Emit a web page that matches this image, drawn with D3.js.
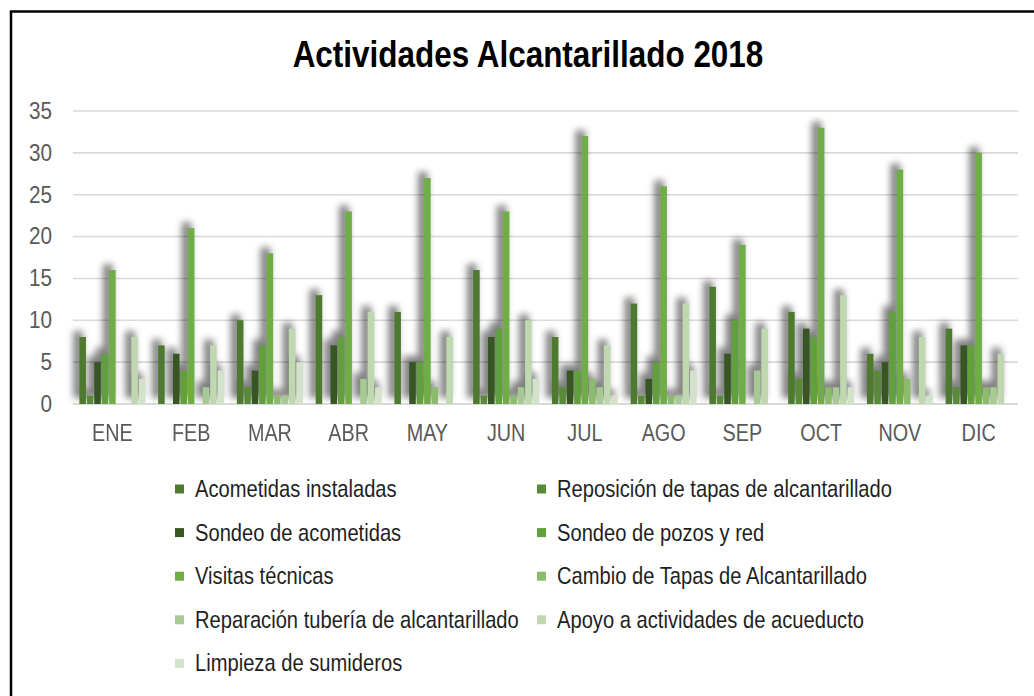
<!DOCTYPE html>
<html>
<head>
<meta charset="utf-8">
<script src="https://cdn.jsdelivr.net/npm/d3@7"></script>
<style>
  body { margin: 0; background: #fff; }
  text { font-family: "Liberation Sans", Arial, sans-serif; }
</style>
</head>
<body>
<script>
// Actividades Alcantarillado 2018 - grouped bars, 9 series per month
var months = ["ENE","FEB","MAR","ABR","MAY","JUN","JUL","AGO","SEP","OCT","NOV","DIC"];

var seriesNames = [
    "Acometidas instaladas",
    "Reposición de tapas de alcantarillado",
    "Sondeo de acometidas",
    "Sondeo de pozos y red",
    "Visitas técnicas",
    "Cambio de Tapas de Alcantarillado",
    "Reparación tubería de alcantarillado",
    "Apoyo a actividades de acueducto",
    "Limpieza de sumideros"
];

var seriesColors = ["#4e7a2f","#588a37","#375623","#62a03d","#70ad47","#8dbb6d","#a7c993","#bfd8af","#d3e3ca"];

// one array per series, Jan..Dec
var acometidas   = [8, 7, 10, 13, 11, 16, 8, 12, 14, 11, 6, 9];
var reposicion   = [1, 0, 2, 0, 0, 1, 2, 1, 1, 3, 4, 2];
var sondeoAcom   = [5, 6, 4, 7, 5, 8, 4, 3, 6, 9, 5, 7];
var sondeoPozos  = [6, 4, 7, 8, 5, 9, 4, 5, 10, 8, 11, 7];
var visitas      = [16, 21, 18, 23, 27, 23, 32, 26, 19, 33, 28, 30];
var cambioTapas  = [0, 0, 1, 0, 2, 1, 3, 1, 0, 2, 3, 2];
var reparacion   = [0, 2, 1, 3, 0, 2, 2, 1, 4, 2, 0, 2];
var apoyo        = [8, 7, 9, 11, 8, 10, 7, 12, 9, 13, 8, 6];
var limpieza     = [3, 4, 5, 2, 0, 3, 1, 4, 0, 2, 1, 0];

var yTicks = [0, 5, 10, 15, 20, 25, 30, 35];

var seriesValues = [acometidas, reposicion, sondeoAcom, sondeoPozos, visitas, cambioTapas, reparacion, apoyo, limpieza];

var width = 1034, height = 696;
var plotLeft = 73, plotRight = 1018, plotTop = 111, plotBottom = 404;
var narrow = 0.84; // no narrow font installed, squeeze the text instead

var svg = d3.select("body").append("svg")
    .attr("width", width)
    .attr("height", height);

svg.append("rect")
    .attr("width", width).attr("height", height)
    .attr("fill", "#fff");

// outer frame (runs off the right/bottom of the picture)
svg.append("rect")
    .attr("x", 11).attr("y", 11.5)
    .attr("width", 1100).attr("height", 800)
    .attr("fill", "none")
    .attr("stroke", "#000")
    .attr("stroke-width", 2.5);

var defs = svg.append("defs");
var blur = defs.append("filter")
    .attr("id", "shadow")
    .attr("x", "-200%").attr("y", "-50%")
    .attr("width", "500%").attr("height", "200%");
blur.append("feGaussianBlur").attr("stdDeviation", 3.6);

var x0 = d3.scaleBand()
    .domain(months)
    .range([plotLeft, plotRight])
    .paddingInner(0.14)
    .paddingOuter(0.07);

var x1 = d3.scaleBand()
    .domain(d3.range(seriesNames.length))
    .range([0, x0.bandwidth()])
    .padding(0.12);

var y = d3.scaleLinear()
    .domain([0, 35])
    .range([plotBottom, plotTop]);

// title
svg.append("text")
    .attr("transform", "translate(528,67) scale(0.85,1)")
    .attr("text-anchor", "middle")
    .attr("font-size", 37)
    .attr("font-weight", "bold")
    .attr("fill", "#000")
    .text("Actividades Alcantarillado 2018");

// gridlines
svg.append("g")
    .selectAll("line")
    .data(yTicks.filter(function(d) { return d > 0; }))
    .enter().append("line")
    .attr("x1", plotLeft).attr("x2", plotRight)
    .attr("y1", function(d) { return y(d); })
    .attr("y2", function(d) { return y(d); })
    .attr("stroke", "#d9d9d9")
    .attr("stroke-width", 1.6);

// y axis labels
var yAxis = d3.axisLeft(y).tickValues(yTicks).tickSize(0).tickPadding(0);
var yg = svg.append("g")
    .attr("transform", "translate(52,0)")
    .call(yAxis);
yg.select(".domain").remove();
yg.selectAll("text")
    .attr("font-size", 23)
    .attr("fill", "#595959")
    .attr("font-family", null)
    .attr("transform", "scale(0.9,1)");

var byMonth = months.map(function(m, i) {
    return { month: m, values: seriesValues.map(function(s, k) { return { k: k, v: s[i] }; }) };
});

// shadows first, underneath all bars
var shadowLayer = svg.append("g").attr("filter", "url(#shadow)").attr("opacity", 0.5);
shadowLayer.selectAll("g")
    .data(byMonth).enter()
    .append("g")
    .attr("transform", function(d) { return "translate(" + x0(d.month) + ",0)"; })
    .selectAll("rect")
    .data(function(d) { return d.values.filter(function(e) { return e.v > 0; }); })
    .enter().append("rect")
    .attr("x", function(d) { return x1(d.k) - 6; })
    .attr("y", function(d) { return y(d.v) - 6; })
    .attr("width", x1.bandwidth() + 3)
    .attr("height", function(d) { return plotBottom - y(d.v); })
    .attr("fill", "#000");

// baseline
svg.append("line")
    .attr("x1", plotLeft).attr("x2", plotRight)
    .attr("y1", plotBottom).attr("y2", plotBottom)
    .attr("stroke", "#d9d9d9")
    .attr("stroke-width", 2);

var groups = svg.append("g")
    .selectAll("g")
    .data(byMonth).enter()
    .append("g")
    .attr("transform", function(d) { return "translate(" + x0(d.month) + ",0)"; });

groups.selectAll("rect")
    .data(function(d) { return d.values.filter(function(e) { return e.v > 0; }); })
    .enter().append("rect")
    .attr("x", function(d) { return x1(d.k); })
    .attr("y", function(d) { return y(d.v); })
    .attr("width", x1.bandwidth())
    .attr("height", function(d) { return plotBottom - y(d.v); })
    .attr("fill", function(d) { return seriesColors[d.k]; });

// x axis labels
var xAxis = d3.axisBottom(x0).tickSize(0).tickPadding(0);
var xg = svg.append("g")
    .attr("transform", "translate(0,425)")
    .call(xAxis);
xg.select(".domain").remove();
xg.selectAll("text")
    .attr("font-size", 23)
    .attr("fill", "#595959")
    .attr("font-family", null)
    .attr("transform", "scale(0.86,1)");

// legend, two columns
var legendCols = [175, 537];
var legendRowY = 489, legendStep = 43.6;

var legend = svg.append("g")
    .selectAll("g")
    .data(seriesNames).enter()
    .append("g")
    .attr("transform", function(d, i) {
        return "translate(" + legendCols[i % 2] + "," + (legendRowY + Math.floor(i / 2) * legendStep) + ")";
    });

legend.append("rect")
    .attr("x", 0).attr("y", -4.5)
    .attr("width", 9).attr("height", 9)
    .attr("fill", function(d, i) { return seriesColors[i]; });

legend.append("text")
    .attr("transform", "translate(20,8) scale(" + narrow + ",1)")
    .attr("font-size", 24)
    .attr("fill", "#1f1f1f")
    .text(function(d) { return d; });
</script>
</body>
</html>
